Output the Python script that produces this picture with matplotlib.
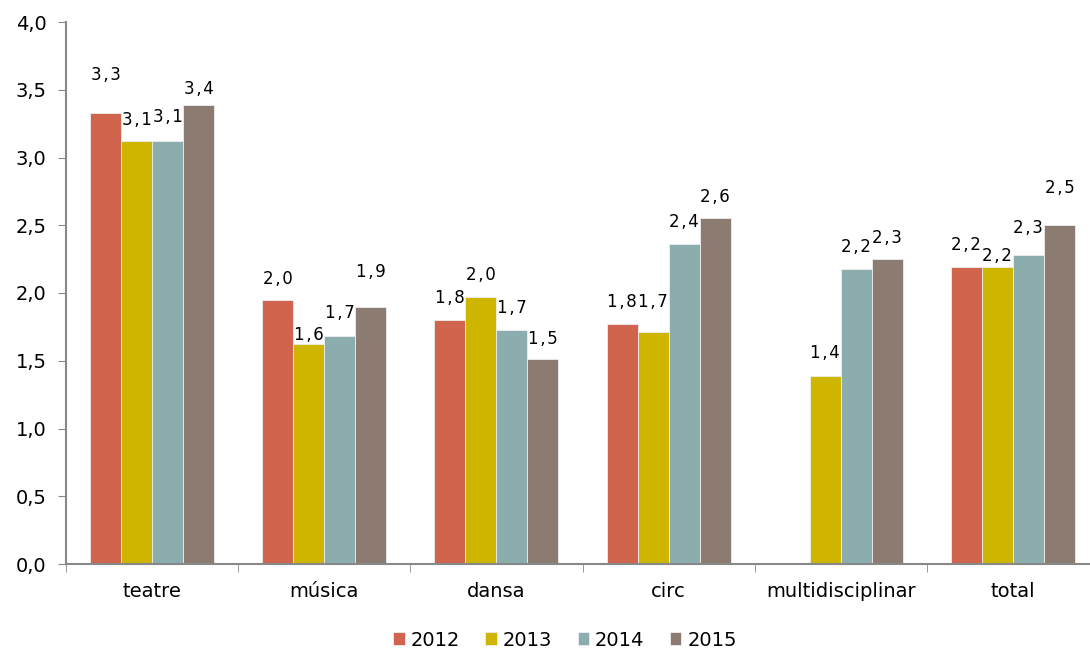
import numpy as np
import matplotlib.pyplot as plt

plt.rcParams.update({
    "font.family": "DejaVu Sans"
})

categories = ['teatre', 'música', 'dansa', 'circ', 'multidisciplinar', 'total']
years = ['2012', '2013', '2014', '2015']

v2012 = [3.33, 1.95, 1.80, 1.77, np.nan, 2.19]
v2013 = [3.12, 1.62, 1.97, 1.71, 1.39, 2.19]
v2014 = [3.12, 1.68, 1.73, 2.36, 2.18, 2.28]
v2015 = [3.39, 1.90, 1.51, 2.55, 2.25, 2.50]
series = [v2012, v2013, v2014, v2015]

labels2012 = ['3,3', '2,0', '1,8', '1,8', '', '2,2']
labels2013 = ['3,1', '1,6', '2,0', '1,7', '1,4', '2,2']
labels2014 = ['3,1', '1,7', '1,7', '2,4', '2,2', '2,3']
labels2015 = ['3,4', '1,9', '1,5', '2,6', '2,3', '2,5']
labels = [labels2012, labels2013, labels2014, labels2015]

# label distance above bar top, in pixels (mimics Excel placement)
label_gap = [
    [38, 21, 22, 22, 22, 22],
    [21, 9, 22, 30, 23, 11],
    [24, 23, 22, 22, 22, 27],
    [16, 35, 20, 21, 21, 37],
]

colors = ['#D1644C', '#CDB500', '#8CADAE', '#8B7B70']

fig = plt.figure(figsize=(10.9, 6.52), dpi=100)
ax = fig.add_axes([66 / 1090, 1 - 564 / 652, 1033 / 1090, 542 / 652])

x = np.arange(len(categories))
w = 0.18
for i, vals in enumerate(series):
    pos = x + (i - 1.5) * w
    ax.bar(pos, vals, width=w, color=colors[i], edgecolor='#eeeeee',
           linewidth=0.6, label=years[i])
    for j, v in enumerate(vals):
        if np.isnan(v):
            continue
        # Excel-style spaced digits
        ax.annotate(labels[i][j].replace(',', '\u200a,\u200a'),
                    (pos[j], v), xytext=(0, label_gap[i][j] * 0.72),
                    textcoords='offset points', ha='center', va='center',
                    fontsize=12)

ax.set_xlim(-0.5, len(categories) - 0.5)
ax.set_ylim(0, 4)
ax.set_yticks(np.arange(0, 4.01, 0.5))
ax.set_yticklabels([f'{t:.1f}'.replace('.', ',') for t in np.arange(0, 4.01, 0.5)],
                   fontsize=14)
ax.set_xticks(x)
ax.set_xticklabels(categories, fontsize=14)
ax.set_xticks(np.arange(-0.5, len(categories), 1), minor=True)
ax.tick_params(axis='x', which='major', length=0, pad=13)
ax.tick_params(axis='x', which='minor', length=6, color='#888888', direction='out')
ax.tick_params(axis='y', length=6, color='#888888', pad=8)

for s in ['top', 'right']:
    ax.spines[s].set_visible(False)
for s in ['left', 'bottom']:
    ax.spines[s].set_color('#888888')
    ax.spines[s].set_linewidth(1.5)

fig.legend(loc='center', bbox_to_anchor=(565 / 1090, 1 - 640 / 652), ncol=4,
           frameon=False, fontsize=14, handlelength=0.6, handleheight=0.6,
           handletextpad=0.3, columnspacing=1.3)

fig.savefig('out.png', dpi=100)
